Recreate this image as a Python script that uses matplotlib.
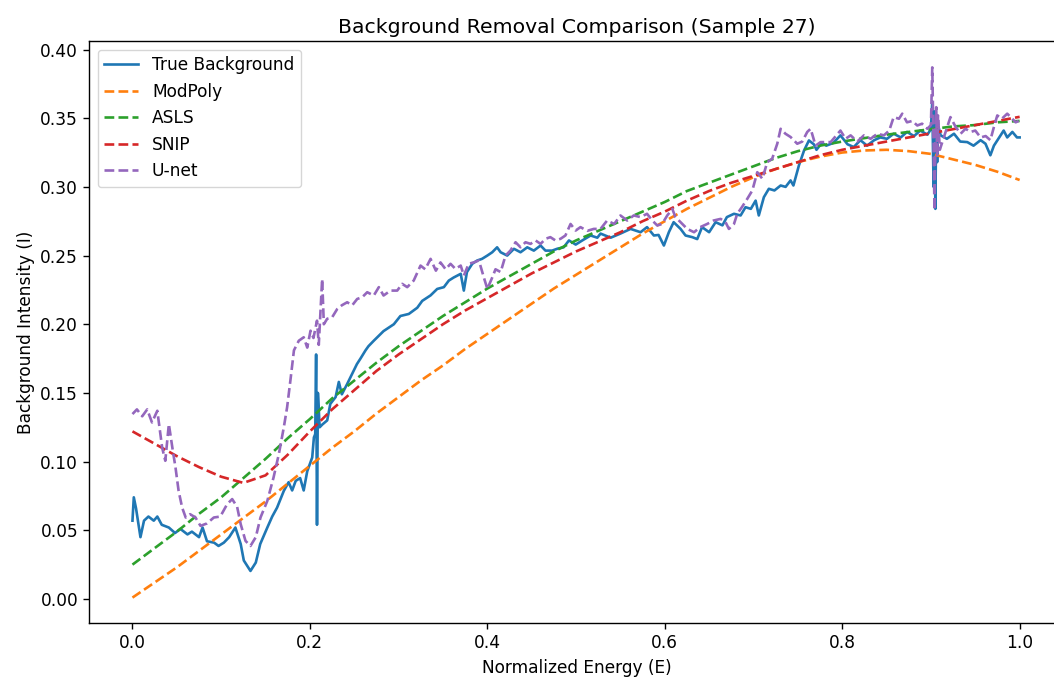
import numpy as np
import matplotlib
matplotlib.use("Agg")
import matplotlib.pyplot as plt

# 平滑基线的横坐标（0.025 步长）
x_smooth = np.linspace(0, 1, 41)

modpoly = [0.001, 0.012, 0.023, 0.035, 0.047, 0.059, 0.071, 0.084, 0.097, 0.110,
           0.122, 0.135, 0.147, 0.159, 0.170, 0.182, 0.193, 0.204, 0.215, 0.226,
           0.236, 0.246, 0.256, 0.266, 0.275, 0.284, 0.292, 0.300, 0.307, 0.313,
           0.318, 0.322, 0.325, 0.3265, 0.327, 0.326, 0.324, 0.320, 0.316, 0.311,
           0.305]

asls = [0.025, 0.037, 0.049, 0.062, 0.074, 0.088, 0.102, 0.117, 0.131, 0.146,
        0.159, 0.172, 0.184, 0.195, 0.206, 0.216, 0.226, 0.235, 0.244, 0.253,
        0.261, 0.268, 0.275, 0.282, 0.289, 0.297, 0.303, 0.309, 0.315, 0.321,
        0.326, 0.330, 0.333, 0.3355, 0.338, 0.340, 0.342, 0.344, 0.345, 0.347,
        0.348]

snip = [0.122, 0.113, 0.104, 0.096, 0.089, 0.0845, 0.090, 0.105, 0.122, 0.138,
        0.152, 0.166, 0.178, 0.189, 0.200, 0.210, 0.219, 0.228, 0.237, 0.245,
        0.253, 0.260, 0.267, 0.275, 0.282, 0.290, 0.297, 0.303, 0.308, 0.313,
        0.318, 0.323, 0.327, 0.330, 0.333, 0.336, 0.339, 0.342, 0.345, 0.348,
        0.351]

# 真实背景
true_x = [0.000, 0.0015, 0.004, 0.009, 0.013, 0.018, 0.024, 0.028, 0.033, 0.041,
          0.048, 0.054, 0.062, 0.067, 0.075, 0.079, 0.084, 0.092, 0.097, 0.103,
          0.109, 0.116, 0.122, 0.1255, 0.133, 0.139, 0.144, 0.152, 0.1575, 0.163,
          0.1706, 0.176, 0.180, 0.184, 0.189, 0.193, 0.197, 0.2026, 0.2045, 0.206,
          0.207, 0.208, 0.209, 0.211, 0.214, 0.2195, 0.223, 0.229, 0.2326, 0.236,
          0.242, 0.2477, 0.253, 0.257, 0.2627, 0.266, 0.272, 0.283, 0.2946, 0.302,
          0.3115, 0.321, 0.3266, 0.336, 0.3435, 0.351, 0.3566, 0.362, 0.370, 0.3735,
          0.377, 0.383, 0.3886, 0.394, 0.400, 0.4055, 0.411, 0.415, 0.4224, 0.430,
          0.4374, 0.445, 0.4524, 0.460, 0.4655, 0.473, 0.479, 0.486, 0.492, 0.4996,
          0.507, 0.5164, 0.524, 0.5276, 0.539, 0.550, 0.5614, 0.5727, 0.580, 0.5877,
          0.593, 0.599, 0.6046, 0.610, 0.6178, 0.6234, 0.631, 0.6366, 0.642, 0.650,
          0.6573, 0.665, 0.670, 0.678, 0.6855, 0.691, 0.697, 0.7024, 0.706, 0.7117,
          0.7173, 0.7236, 0.7306, 0.7362, 0.7418, 0.745, 0.7512, 0.757, 0.7625, 0.768,
          0.771, 0.777, 0.782, 0.790, 0.798, 0.806, 0.813, 0.8205, 0.828, 0.836,
          0.843, 0.8505, 0.858, 0.866, 0.873, 0.881, 0.888, 0.896, 0.900, 0.9015,
          0.903, 0.904, 0.905, 0.906, 0.907, 0.908, 0.911, 0.918, 0.926, 0.933,
          0.941, 0.948, 0.956, 0.9615, 0.967, 0.971, 0.977, 0.982, 0.986, 0.9918,
          0.997, 1.000]
true_y = [0.057, 0.074, 0.066, 0.045, 0.057, 0.060, 0.057, 0.060, 0.054, 0.052,
          0.048, 0.051, 0.047, 0.049, 0.045, 0.052, 0.042, 0.041, 0.0386, 0.041,
          0.045, 0.052, 0.040, 0.028, 0.0204, 0.0265, 0.040, 0.052, 0.060, 0.0665,
          0.0787, 0.085, 0.079, 0.086, 0.088, 0.079, 0.093, 0.103, 0.1176, 0.120,
          0.178, 0.054, 0.150, 0.125, 0.127, 0.130, 0.142, 0.147, 0.158, 0.149,
          0.1565, 0.164, 0.171, 0.175, 0.181, 0.184, 0.188, 0.195, 0.200, 0.206,
          0.2075, 0.212, 0.217, 0.221, 0.2257, 0.227, 0.2318, 0.234, 0.2367, 0.2245,
          0.238, 0.244, 0.2464, 0.2476, 0.250, 0.2524, 0.256, 0.2524, 0.250, 0.2549,
          0.2524, 0.256, 0.2536, 0.2573, 0.2536, 0.2536, 0.255, 0.256, 0.261, 0.258,
          0.261, 0.2646, 0.263, 0.266, 0.263, 0.266, 0.2694, 0.267, 0.2707, 0.2646,
          0.265, 0.2573, 0.267, 0.2743, 0.2694, 0.2646, 0.2634, 0.262, 0.2707, 0.267,
          0.2743, 0.272, 0.278, 0.2804, 0.2792, 0.2852, 0.284, 0.290, 0.2792, 0.2925,
          0.2986, 0.2974, 0.301, 0.300, 0.3047, 0.301, 0.3156, 0.3265, 0.3338, 0.331,
          0.327, 0.332, 0.330, 0.332, 0.3375, 0.331, 0.329, 0.334, 0.330, 0.334,
          0.336, 0.335, 0.3387, 0.336, 0.340, 0.337, 0.341, 0.338, 0.342, 0.362,
          0.300, 0.355, 0.284, 0.350, 0.318, 0.345, 0.3375, 0.335, 0.3387, 0.333,
          0.3326, 0.330, 0.334, 0.3314, 0.323, 0.330, 0.336, 0.341, 0.336, 0.340,
          0.336, 0.336]

# U-net 预测
unet_x = [0.000, 0.005, 0.011, 0.0166, 0.022, 0.028, 0.0335, 0.037, 0.041, 0.045,
          0.0485, 0.052, 0.056, 0.060, 0.065, 0.071, 0.0767, 0.084, 0.0917, 0.099,
          0.1067, 0.1124, 0.118, 0.122, 0.1274, 0.133, 0.139, 0.1443, 0.152, 0.159,
          0.165, 0.1706, 0.1743, 0.178, 0.182, 0.1875, 0.193, 0.197, 0.2007, 0.204,
          0.208, 0.210, 0.2138, 0.2157, 0.2195, 0.225, 0.2307, 0.236, 0.242, 0.2477,
          0.2533, 0.259, 0.2646, 0.272, 0.2777, 0.283, 0.2909, 0.2984, 0.304, 0.3097,
          0.317, 0.3247, 0.330, 0.336, 0.342, 0.3472, 0.353, 0.3585, 0.364, 0.370,
          0.3735, 0.379, 0.385, 0.3905, 0.396, 0.400, 0.4055, 0.4092, 0.415, 0.4205,
          0.426, 0.4318, 0.4374, 0.443, 0.4487, 0.4543, 0.460, 0.4656, 0.471, 0.4768,
          0.4825, 0.488, 0.4938, 0.4995, 0.505, 0.5126, 0.520, 0.5276, 0.535, 0.543,
          0.550, 0.5577, 0.565, 0.5727, 0.580, 0.586, 0.5915, 0.597, 0.6028, 0.6085,
          0.612, 0.6178, 0.6253, 0.633, 0.640, 0.6478, 0.655, 0.663, 0.6685, 0.6723,
          0.678, 0.6817, 0.687, 0.693, 0.6987, 0.7043, 0.710, 0.7155, 0.721, 0.7268,
          0.7306, 0.736, 0.7418, 0.7493, 0.755, 0.7606, 0.7644, 0.770, 0.7756, 0.787,
          0.798, 0.8038, 0.8095, 0.817, 0.8245, 0.832, 0.8396, 0.847, 0.853, 0.858,
          0.864, 0.8677, 0.873, 0.879, 0.8846, 0.890, 0.896, 0.900, 0.9015, 0.903,
          0.904, 0.905, 0.906, 0.907, 0.908, 0.910, 0.9166, 0.922, 0.9279, 0.9335,
          0.939, 0.9448, 0.950, 0.956, 0.9617, 0.967, 0.971, 0.9748, 0.980, 0.986,
          0.9917, 0.9955, 0.999]
unet_y = [0.1346, 0.138, 0.133, 0.138, 0.1285, 0.137, 0.110, 0.1006, 0.1273, 0.110,
          0.0957, 0.0787, 0.0665, 0.0593, 0.0617, 0.0593, 0.0532, 0.055, 0.0593, 0.060,
          0.069, 0.0727, 0.067, 0.0544, 0.0423, 0.0386, 0.045, 0.0593, 0.0714, 0.0884,
          0.1055, 0.125, 0.1395, 0.159, 0.181, 0.188, 0.1905, 0.183, 0.1953, 0.190,
          0.2026, 0.185, 0.233, 0.200, 0.204, 0.205, 0.211, 0.2138, 0.216, 0.2138,
          0.2184, 0.2197, 0.2233, 0.2209, 0.227, 0.2209, 0.2245, 0.2245, 0.2294, 0.2270,
          0.2318, 0.2427, 0.240, 0.2476, 0.2390, 0.245, 0.240, 0.2440, 0.2403, 0.2427,
          0.2354, 0.244, 0.2451, 0.2464, 0.2342, 0.2257, 0.234, 0.240, 0.238, 0.250,
          0.2536, 0.2597, 0.256, 0.2597, 0.2585, 0.261, 0.2585, 0.2622, 0.2634, 0.261,
          0.2622, 0.2646, 0.273, 0.2682, 0.2707, 0.268, 0.2694, 0.2694, 0.2755, 0.273,
          0.2792, 0.2755, 0.2792, 0.278, 0.2804, 0.2755, 0.2719, 0.273, 0.2792, 0.284,
          0.278, 0.2743, 0.2694, 0.267, 0.2707, 0.273, 0.2755, 0.2767, 0.2743, 0.2694,
          0.273, 0.2804, 0.2853, 0.2913, 0.2974, 0.3107, 0.3059, 0.318, 0.3204, 0.3314,
          0.3423, 0.3387, 0.3363, 0.3314, 0.333, 0.340, 0.3423, 0.330, 0.3326, 0.3326,
          0.341, 0.335, 0.3375, 0.333, 0.3375, 0.335, 0.3387, 0.3375, 0.341, 0.3508,
          0.3496, 0.3533, 0.347, 0.348, 0.3447, 0.346, 0.3423, 0.345, 0.387, 0.330,
          0.283, 0.330, 0.358, 0.322, 0.352, 0.327, 0.340, 0.3508, 0.3436, 0.3387,
          0.3423, 0.340, 0.341, 0.336, 0.337, 0.334, 0.3436, 0.352, 0.3496, 0.3533,
          0.3496, 0.347, 0.348]

plt.rcParams['font.size'] = 12.25

fig = plt.figure(figsize=(10.54, 6.77), dpi=100)
ax = fig.add_axes([89 / 1054, 1 - 623 / 677, 975 / 1054, 582 / 677])

lw = 1.9
ax.plot(true_x, true_y, color='tab:blue', lw=lw, label='True Background')
ax.plot(x_smooth, modpoly, '--', color='tab:orange', lw=lw, label='ModPoly')
ax.plot(x_smooth, asls, '--', color='tab:green', lw=lw, label='ASLS')
ax.plot(x_smooth, snip, '--', color='tab:red', lw=lw, label='SNIP')
ax.plot(unet_x, unet_y, '--', color='tab:purple', lw=lw, label='U-net')

ax.set_xlim(-0.049, 1.05)
ax.set_ylim(-0.0175, 0.4062)
ax.set_xticks([0.0, 0.2, 0.4, 0.6, 0.8, 1.0])
ax.set_yticks([0.00, 0.05, 0.10, 0.15, 0.20, 0.25, 0.30, 0.35, 0.40])
ax.tick_params(length=4.3, width=1.0)
for s in ax.spines.values():
    s.set_linewidth(1.0)
# 原图右边框在画面之外
ax.spines['right'].set_visible(False)

ax.set_title('Background Removal Comparison (Sample 27)', fontsize=14.7, pad=6)
ax.set_xlabel('Normalized Energy (E)', labelpad=5)
ax.set_ylabel('Background Intensity (I)')
ax.legend(loc='upper left')

fig.savefig('out.png', dpi=100)
